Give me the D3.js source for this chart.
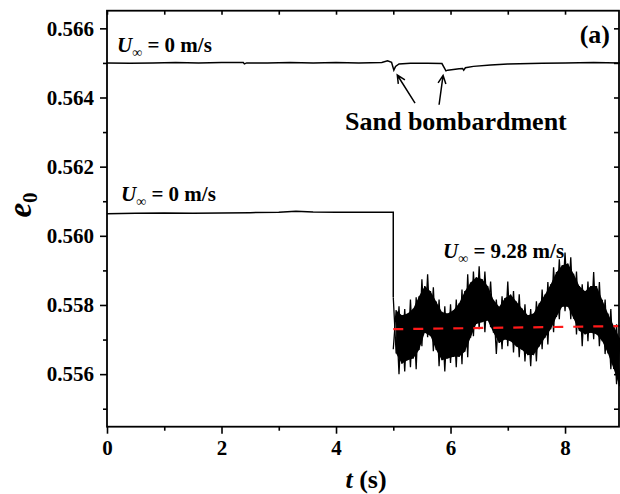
<!DOCTYPE html>
<html>
<head>
<meta charset="utf-8">
<script src="https://cdn.jsdelivr.net/npm/d3@7"></script>
<style>
body { margin: 0; background: #fff; }
svg text { font-family: "Liberation Serif", "Times New Roman", serif; font-weight: bold; fill: #000; }
</style>
</head>
<body>
<div id="chart"></div>
<script>
// U = 0 m/s, sand bombardment run (top trace)
var topT = [0, 0.4, 0.8, 1.2, 1.6, 2.0, 2.38, 2.40, 2.44, 2.8, 3.2, 3.6, 4.0, 4.4, 4.8, 4.9, 4.97, 5.01, 5.04, 5.1, 5.3, 5.6, 5.85, 5.92, 5.95, 6.05, 6.15, 6.21, 6.23, 6.26, 6.4, 6.7, 7.0, 7.6, 8.0, 8.5, 9.0];
var topV = [0.56500, 0.56499, 0.56500, 0.56501, 0.56500, 0.56501, 0.56501, 0.56497, 0.56500, 0.56500, 0.56501, 0.56500, 0.56501, 0.56500, 0.56501, 0.56506, 0.56502, 0.56479, 0.56490, 0.56497, 0.56499, 0.56499, 0.56498, 0.56477, 0.56479, 0.56481, 0.56483, 0.56484, 0.56479, 0.56486, 0.56490, 0.56494, 0.56497, 0.56499, 0.56500, 0.56501, 0.56500];

// U = 0 m/s then wind switched on at 5 s (middle trace)
var midT = [0, 0.5, 1.0, 1.5, 2.0, 2.5, 3.0, 3.3, 3.6, 4.0, 4.5, 5.0, 5.0];
var midV = [0.56064, 0.56065, 0.56066, 0.56065, 0.56066, 0.56067, 0.56068, 0.56071, 0.56069, 0.56068, 0.56068, 0.56068, 0.55822];

// U = 9.28 m/s, noisy trace: spike tops and bottoms every 0.05 s
var windT = [5.00, 5.05, 5.10, 5.15, 5.20, 5.25, 5.30, 5.35, 5.40, 5.45,
	5.50, 5.55, 5.60, 5.65, 5.70, 5.75, 5.80, 5.85, 5.90, 5.95,
	6.00, 6.05, 6.10, 6.15, 6.20, 6.25, 6.30, 6.35, 6.40, 6.45,
	6.50, 6.55, 6.60, 6.65, 6.70, 6.75, 6.80, 6.85, 6.90, 6.95,
	7.00, 7.05, 7.10, 7.15, 7.20, 7.25, 7.30, 7.35, 7.40, 7.45,
	7.50, 7.55, 7.60, 7.65, 7.70, 7.75, 7.80, 7.85, 7.90, 7.95,
	8.00, 8.05, 8.10, 8.15, 8.20, 8.25, 8.30, 8.35, 8.40, 8.45,
	8.50, 8.55, 8.60, 8.65, 8.70, 8.75, 8.80, 8.85, 8.90, 8.95, 9.00];
var windHi = [0.55822, 0.55785, 0.55796, 0.55770, 0.55788, 0.55775, 0.55816, 0.55790, 0.55822, 0.55825,
	0.55874, 0.55855, 0.55889, 0.55840, 0.55851, 0.55810, 0.55816, 0.55780, 0.55796, 0.55775,
	0.55802, 0.55785, 0.55816, 0.55805, 0.55845, 0.55840, 0.55889, 0.55865, 0.55897, 0.55880,
	0.55912, 0.55875, 0.55897, 0.55855, 0.55868, 0.55815, 0.55816, 0.55795, 0.55825, 0.55820,
	0.55868, 0.55830, 0.55840, 0.55810, 0.55831, 0.55790, 0.55802, 0.55770, 0.55788, 0.55775,
	0.55811, 0.55805, 0.55845, 0.55830, 0.55866, 0.55860, 0.55909, 0.55895, 0.55932, 0.55915,
	0.55952, 0.55920, 0.55938, 0.55890, 0.55897, 0.55855, 0.55860, 0.55840, 0.55868, 0.55855,
	0.55895, 0.55855, 0.55866, 0.55815, 0.55816, 0.55775, 0.55788, 0.55740, 0.55744, 0.55705, 0.55715];
var windLo = [0.55672, 0.55660, 0.55600, 0.55630, 0.55608, 0.55640, 0.55620, 0.55645, 0.55614, 0.55670,
	0.55681, 0.55720, 0.55707, 0.55710, 0.55666, 0.55670, 0.55623, 0.55640, 0.55608, 0.55645,
	0.55632, 0.55650, 0.55620, 0.55650, 0.55629, 0.55665, 0.55649, 0.55705, 0.55710, 0.55745,
	0.55730, 0.55750, 0.55721, 0.55755, 0.55736, 0.55720, 0.55658, 0.55690, 0.55672, 0.55700,
	0.55681, 0.55695, 0.55663, 0.55680, 0.55649, 0.55670, 0.55637, 0.55655, 0.55623, 0.55655,
	0.55637, 0.55680, 0.55672, 0.55705, 0.55686, 0.55730, 0.55721, 0.55765, 0.55759, 0.55795,
	0.55782, 0.55795, 0.55759, 0.55760, 0.55715, 0.55725, 0.55681, 0.55715, 0.55695, 0.55720,
	0.55701, 0.55715, 0.55681, 0.55695, 0.55658, 0.55660, 0.55614, 0.55615, 0.55571, 0.55565, 0.55507];

// mean value (red dashed)
var meanT = [5.0, 9.0];
var meanV = [0.55730, 0.55739];

var xMajor = [0, 2, 4, 6, 8];
var xMinor = [1, 3, 5, 7];
var yMajor = [0.556, 0.558, 0.560, 0.562, 0.564, 0.566];
var yMinor = [0.555, 0.557, 0.559, 0.561, 0.563, 0.565];

var width = 620,
	height = 494;

var margin = { top: 10.7, right: 0, bottom: 67.3, left: 107 };

var svg = d3.select("#chart").append("svg")
	.attr("width", width)
	.attr("height", height);

var xScale = d3.scaleLinear().domain([0, 8.96]).range([margin.left, width - margin.right]);
var yScale = d3.scaleLinear().domain([0.55448, 0.56651]).range([height - margin.bottom, margin.top]);

var x0 = xScale.range()[0], x1 = xScale.range()[1];
var y0 = yScale.range()[0], y1 = yScale.range()[1];

svg.append("clipPath").attr("id", "plotclip")
	.append("rect")
	.attr("x", x0).attr("y", y1)
	.attr("width", x1 - x0).attr("height", y0 - y1);

var plot = svg.append("g").attr("clip-path", "url(#plotclip)");

var line = d3.line()
	.x(function(d) { return xScale(d[0]); })
	.y(function(d) { return yScale(d[1]); });

var area = d3.area()
	.x(function(d) { return xScale(d[0]); })
	.y0(function(d) { return yScale(d[2]); })
	.y1(function(d) { return yScale(d[1]); });

plot.append("path")
	.attr("d", line(d3.zip(topT, topV)))
	.attr("fill", "none")
	.attr("stroke", "#000")
	.attr("stroke-width", 1.5);

plot.append("path")
	.attr("d", line(d3.zip(midT, midV)))
	.attr("fill", "none")
	.attr("stroke", "#000")
	.attr("stroke-width", 1.5);

// noisy trace: solid core through the inner points, spikes as two crossing zigzags
var core = d3.zip(windT, windHi, windLo).filter(function(d, i) { return i % 2 === 1; });
plot.append("path")
	.attr("d", area(core))
	.attr("fill", "#000");

var zigA = windT.map(function(t, i) { return [t, i % 2 ? windLo[i] : windHi[i]]; });
var zigB = windT.map(function(t, i) { return [t, i % 2 ? windHi[i] : windLo[i]]; });

[zigA, zigB].forEach(function(z) {
	plot.append("path")
		.attr("d", line(z))
		.attr("fill", "none")
		.attr("stroke", "#000")
		.attr("stroke-width", 1.3)
		.attr("stroke-linejoin", "miter");
});

plot.append("path")
	.attr("d", line(d3.zip(meanT, meanV)))
	.attr("fill", "none")
	.attr("stroke", "#ff1a1a")
	.attr("stroke-width", 2.2)
	.attr("stroke-dasharray", "10,10");

// axes
function styleAxis(g) {
	g.select(".domain").remove();
	g.selectAll(".tick line").attr("stroke", "#000").attr("stroke-width", 1.6);
	g.selectAll("text")
		.attr("font-family", "'Liberation Serif', 'Times New Roman', serif")
		.attr("font-weight", "bold")
		.attr("font-size", 21)
		.attr("fill", "#000");
}

var xAxis = d3.axisBottom(xScale).tickValues(xMajor).tickFormat(d3.format("d")).tickSize(7).tickPadding(6);
var xAxisMinor = d3.axisBottom(xScale).tickValues(xMinor).tickFormat("").tickSize(4);
var yAxis = d3.axisLeft(yScale).tickValues(yMajor).tickFormat(d3.format(".3f")).tickSize(7).tickPadding(6);
var yAxisMinor = d3.axisLeft(yScale).tickValues(yMinor).tickFormat("").tickSize(4);
var topAxis = d3.axisBottom(xScale).tickValues(xMajor.concat(xMinor)).tickFormat("").tickSize(4);
var rightAxis = d3.axisLeft(yScale).tickValues(yMajor.concat(yMinor)).tickFormat("").tickSize(5);

svg.append("g").attr("transform", "translate(0," + y0 + ")").call(xAxis).call(styleAxis);
svg.append("g").attr("transform", "translate(0," + y0 + ")").call(xAxisMinor).call(styleAxis);
svg.append("g").attr("transform", "translate(" + x0 + ",0)").call(yAxis).call(styleAxis);
svg.append("g").attr("transform", "translate(" + x0 + ",0)").call(yAxisMinor).call(styleAxis);
svg.append("g").attr("transform", "translate(0," + y1 + ")").call(topAxis).call(styleAxis);
svg.append("g").attr("transform", "translate(" + (x1 - 1) + ",0)").call(rightAxis).call(styleAxis);

svg.append("rect")
	.attr("x", x0).attr("y", y1)
	.attr("width", x1 - 1 - x0).attr("height", y0 - y1)
	.attr("fill", "none")
	.attr("stroke", "#000")
	.attr("stroke-width", 1.8);

// axis titles
svg.append("text")
	.attr("x", 366).attr("y", 488)
	.attr("text-anchor", "middle")
	.attr("font-size", 26)
	.call(function(t) {
		t.append("tspan").attr("font-style", "italic").text("t");
		t.append("tspan").text(" (s)");
	});

svg.append("text")
	.attr("transform", "translate(31,205) rotate(-90)")
	.attr("text-anchor", "middle")
	.attr("font-size", 33)
	.call(function(t) {
		t.append("tspan").attr("font-style", "italic").text("e");
		t.append("tspan").attr("font-size", 21).attr("dy", 6).text("0");
	});

// annotations
function speedLabel(x, y, value) {
	var t = svg.append("text").attr("x", x).attr("y", y).attr("font-size", 21);
	t.append("tspan").attr("font-style", "italic").text("U");
	t.append("tspan").attr("font-style", "italic").attr("font-size", 14).attr("dy", 5).text("\u221E");
	t.append("tspan").attr("dy", -5).text(" = " + value + " m/s");
}

speedLabel(117, 52, "0");
speedLabel(121, 201, "0");
speedLabel(443, 258, "9.28");

svg.append("text")
	.attr("x", 610).attr("y", 43)
	.attr("text-anchor", "end")
	.attr("font-size", 26)
	.text("(a)");

svg.append("text")
	.attr("x", 345).attr("y", 130)
	.attr("font-size", 26)
	.text("Sand bombardment");

var arrows = [
	{ from: [5.38, 0.56384], to: [5.07, 0.56465] },
	{ from: [5.80, 0.56379], to: [5.87, 0.56464] }
];

arrows.forEach(function(a) {
	var fx = xScale(a.from[0]), fy = yScale(a.from[1]);
	var tx = xScale(a.to[0]), ty = yScale(a.to[1]);
	var ang = Math.atan2(ty - fy, tx - fx);
	var head = 9, spread = 0.45;
	var p = d3.path();
	p.moveTo(fx, fy);
	p.lineTo(tx, ty);
	p.moveTo(tx - head * Math.cos(ang - spread), ty - head * Math.sin(ang - spread));
	p.lineTo(tx, ty);
	p.lineTo(tx - head * Math.cos(ang + spread), ty - head * Math.sin(ang + spread));
	svg.append("path")
		.attr("d", p.toString())
		.attr("fill", "none")
		.attr("stroke", "#000")
		.attr("stroke-width", 1.5);
});
</script>
</body>
</html>
